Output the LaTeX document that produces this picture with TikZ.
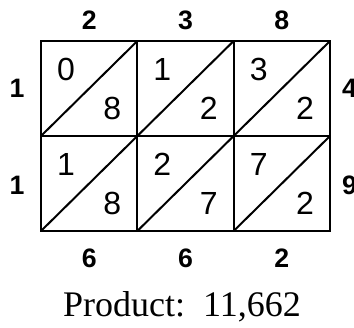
\documentclass[tikz,border=0pt]{standalone}
\usepackage{fontspec}
\setmainfont{Liberation Serif}
\setsansfont{Liberation Sans}
\usetikzlibrary{positioning}

\begin{document}
\begin{tikzpicture}[
  x=0.75pt, y=-0.75pt,
  factor/.style={inner sep=0pt, font=\sffamily\bfseries\fontsize{20}{20}\selectfont},
  digit/.style={inner sep=0pt, font=\sffamily\fontsize{24}{24}\selectfont},
  lattice/.style={line width=1.5pt, line join=miter}
]
\useasboundingbox (0,0) rectangle (354,328);

% lattice frame and cell diagonals
\draw[lattice] (41,41) rectangle (330,231);
\draw[lattice] (41,136) -- (330,136);
\draw[lattice] (137.33,41) -- (137.33,231);
\draw[lattice] (233.67,41) -- (233.67,231);
\draw[lattice] (41,136) -- (137.33,41);
\draw[lattice] (137.33,136) -- (233.67,41);
\draw[lattice] (233.67,136) -- (330,41);
\draw[lattice] (41,231) -- (137.33,136);
\draw[lattice] (137.33,231) -- (233.67,136);
\draw[lattice] (233.67,231) -- (330,136);

% factors round the lattice
\node[factor] (top1) at (89.2,20) {2};
\node[factor] (top2) at (185.5,20) {3};
\node[factor] (top3) at (281.8,20) {8};
\node[factor] (left1) at (17,88.5) {1};
\node[factor] (left2) at (17,185) {1};
\node[factor] (right1) at (349.5,88.5) {4};
\node[factor] (right2) at (349.5,185) {9};

% partial products in the cells
\node[digit] (a1) at (66,69) {0};
\node[digit] (b1) at (112.3,108) {8};
\node[digit] (a2) at (162.3,69) {1};
\node[digit] (b2) at (208.7,108) {2};
\node[digit] (a3) at (258.7,69) {3};
\node[digit] (b3) at (305,108) {2};
\node[digit] (a4) at (66,164) {1};
\node[digit] (b4) at (112.3,203) {8};
\node[digit] (a5) at (162.3,164) {2};
\node[digit] (b5) at (208.7,203) {7};
\node[digit] (a6) at (258.7,164) {7};
\node[digit] (b6) at (305,203) {2};

% digit sums and result
\node[factor] (sum1) at (89.2,258) {6};
\node[factor] (sum2) at (185.5,258) {6};
\node[factor] (sum3) at (281.8,258) {2};
\node[anchor=base, inner sep=0pt, font=\fontsize{27}{27}\selectfont] (product) at (182,316) {Product:\ \ 11,662};
\end{tikzpicture}
\end{document}
